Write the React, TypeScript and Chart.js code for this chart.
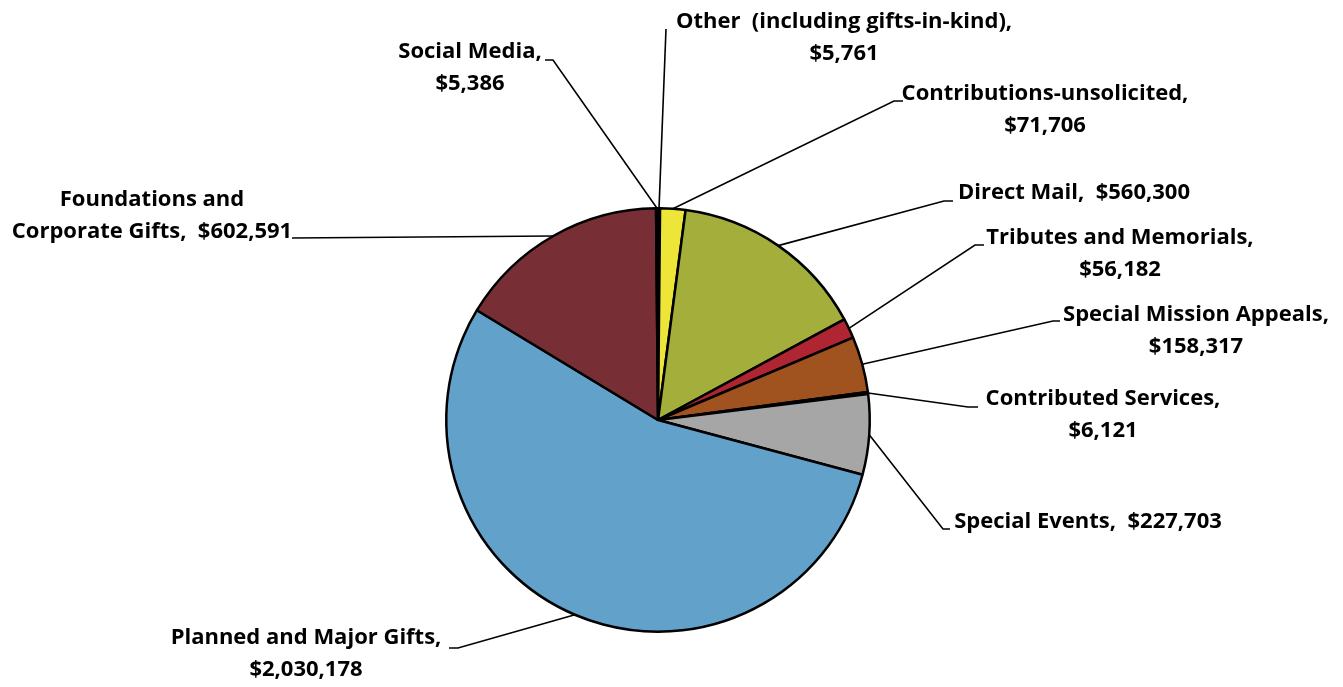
import React, { useEffect, useRef } from "react";
import { Chart, registerables } from "chart.js";

Chart.register(...registerables);

const categories = [
  "Other  (including gifts-in-kind),",
  "Contributions-unsolicited,",
  "Direct Mail,",
  "Tributes and Memorials,",
  "Special Mission Appeals,",
  "Contributed Services,",
  "Special Events,",
  "Planned and Major Gifts,",
  "Foundations and Corporate Gifts,",
  "Social Media,",
];

const values = [5761, 71706, 560300, 56182, 158317, 6121, 227703, 2030178, 602591, 5386];

const valueLabels = [
  "$5,761",
  "$71,706",
  "$560,300",
  "$56,182",
  "$158,317",
  "$6,121",
  "$227,703",
  "$2,030,178",
  "$602,591",
  "$5,386",
];

const sliceColors = [
  "#2a2a2a",
  "#EDE537",
  "#A3AE3B",
  "#B02532",
  "#A0521F",
  "#2a2a2a",
  "#A6A6A6",
  "#62A1C9",
  "#772E35",
  "#2a2a2a",
];

type LabelLayout = {
  lines: string[];
  cx: number;
  y: number;
  elbow: [number, number] | null;
  end: [number, number];
};

const labelLayout: LabelLayout[] = [
  { lines: [categories[0], valueLabels[0]], cx: 844, y: 22, elbow: null, end: [666, 29] },
  { lines: [categories[1], valueLabels[1]], cx: 1045, y: 94, elbow: [894, 101], end: [903, 101] },
  { lines: ["Direct Mail,  " + valueLabels[2]], cx: 1074, y: 193, elbow: [944, 201], end: [953, 201] },
  { lines: [categories[3], valueLabels[3]], cx: 1120, y: 238, elbow: [975, 245], end: [984, 245] },
  { lines: [categories[4], valueLabels[4]], cx: 1196, y: 315, elbow: [1053, 321], end: [1060, 321] },
  { lines: [categories[5], valueLabels[5]], cx: 1103, y: 399, elbow: [968, 407], end: [978, 407] },
  { lines: ["Special Events,  " + valueLabels[6]], cx: 1088, y: 522, elbow: [943, 529], end: [950, 529] },
  { lines: [categories[7], valueLabels[7]], cx: 306, y: 638, elbow: [458, 648], end: [449, 648] },
  { lines: ["Foundations and", "Corporate Gifts,  " + valueLabels[8]], cx: 152, y: 200, elbow: null, end: [292, 238] },
  { lines: [categories[9], valueLabels[9]], cx: 470, y: 52, elbow: [553, 60], end: [545, 60] },
];

const labelPlugin = {
  id: "outerLabels",
  afterDraw(chart: any) {
    const ctx = chart.ctx;
    const meta = chart.getDatasetMeta(0);
    ctx.save();
    ctx.strokeStyle = "#000";
    ctx.lineWidth = 1.6;
    meta.data.forEach((arc: any, i: number) => {
      const L = labelLayout[i];
      if (!L) return;
      const mid = (arc.startAngle + arc.endAngle) / 2;
      const sx = arc.x + Math.cos(mid) * arc.outerRadius;
      const sy = arc.y + Math.sin(mid) * arc.outerRadius;
      ctx.beginPath();
      ctx.moveTo(sx, sy);
      if (L.elbow) ctx.lineTo(L.elbow[0], L.elbow[1]);
      ctx.lineTo(L.end[0], L.end[1]);
      ctx.stroke();
    });
    ctx.fillStyle = "#000";
    ctx.font = "bold 22px 'Open Sans'";
    ctx.textAlign = "center";
    ctx.textBaseline = "middle";
    labelLayout.forEach((L) => {
      L.lines.forEach((t, k) => {
        ctx.fillText(t, L.cx, L.y + k * 32);
      });
    });
    ctx.restore();
  },
};

export default function App() {
  const ref = useRef<HTMLCanvasElement | null>(null);
  useEffect(() => {
    if (!ref.current) return;
    const chart = new Chart(ref.current, {
      type: "pie",
      data: {
        labels: categories,
        datasets: [
          {
            data: values,
            backgroundColor: sliceColors,
            borderColor: "#000",
            borderWidth: 2.5,
          },
        ],
      },
      options: {
        responsive: false,
        animation: false,
        devicePixelRatio: 1,
        layout: { padding: { left: 445, right: 472, top: 207, bottom: 54 } },
        plugins: {
          legend: { display: false },
          tooltip: { enabled: false },
        },
      },
      plugins: [labelPlugin],
    });
    return () => chart.destroy();
  }, []);
  return (
    <div style={{ position: "fixed", left: 0, top: 0, width: 1343, height: 687, background: "#fff" }}>
      <canvas ref={ref} width={1343} height={687} style={{ width: 1343, height: 687 }} />
    </div>
  );
}
